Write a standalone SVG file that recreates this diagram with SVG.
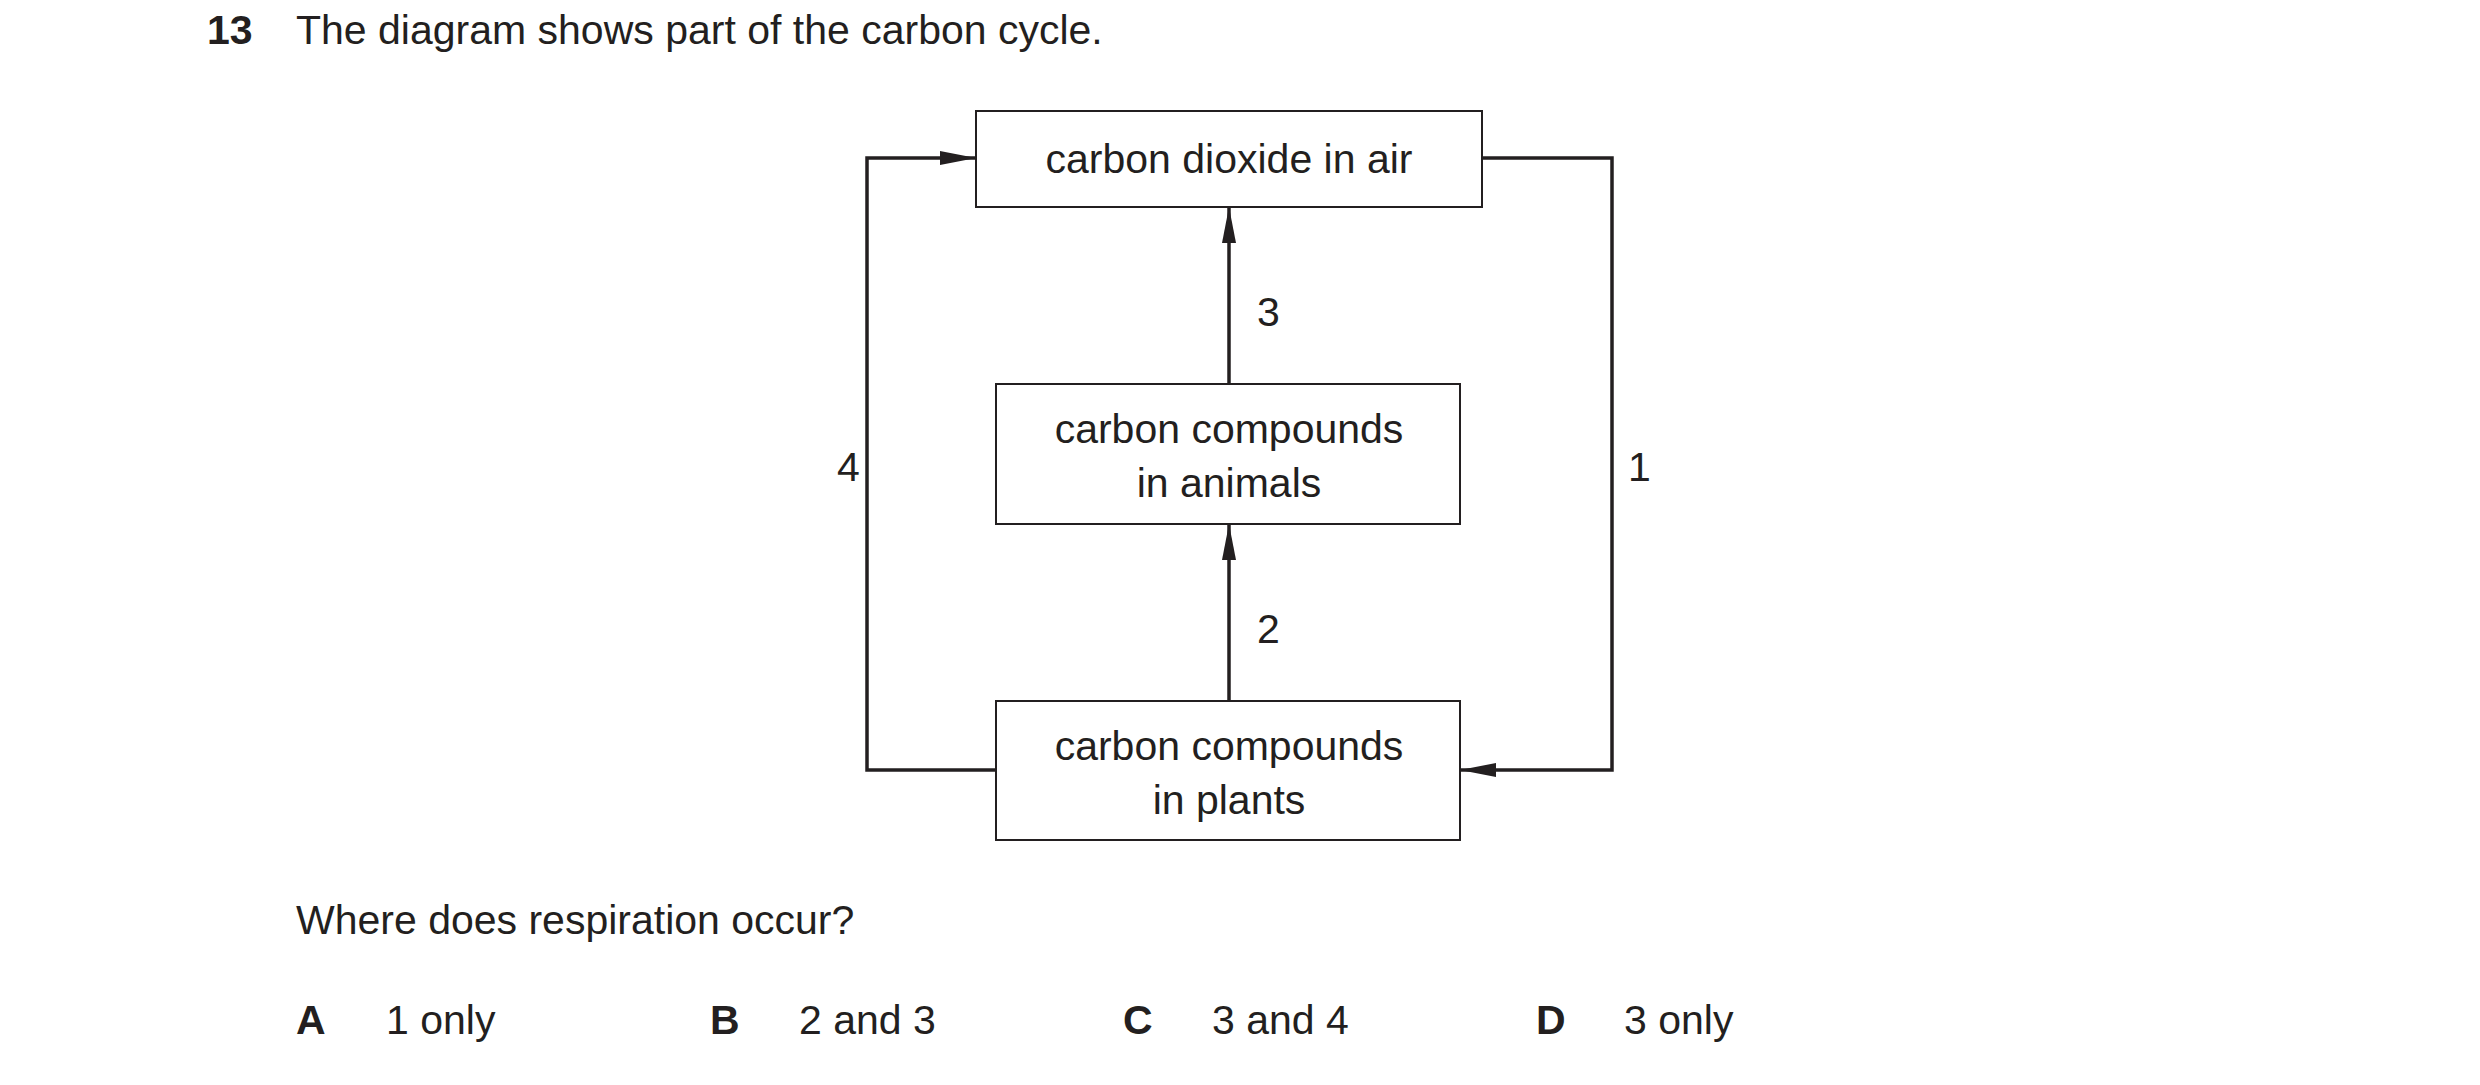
<svg xmlns="http://www.w3.org/2000/svg" width="2480" height="1085" viewBox="0 0 2480 1085">
<defs>
<style>
text{font-family:"Liberation Sans",Arial,sans-serif;font-size:41px;fill:#231f20}
.b{font-weight:bold}
.m{text-anchor:middle}
.box{fill:#fff;stroke:#231f20;stroke-width:2}
.ln{fill:none;stroke:#231f20;stroke-width:3.5}
</style>
<marker id="ah" viewBox="0 0 10 10" refX="10" refY="5" markerWidth="36" markerHeight="14" markerUnits="userSpaceOnUse" orient="auto" preserveAspectRatio="none"><path d="M0,0L10,5L0,10z" fill="#231f20"/></marker>
</defs>
<rect width="2480" height="1085" fill="#fff"/>
<text x="207" y="44" class="b">13</text>
<text x="296" y="44">The diagram shows part of the carbon cycle.</text>
<g id="connectors">
<path class="ln" d="M1229,384V207" marker-end="url(#ah)"/>
<path class="ln" d="M1229,701V524" marker-end="url(#ah)"/>
<path class="ln" d="M996,770H867V158H976" marker-end="url(#ah)"/>
<path class="ln" d="M1482,158H1612V770H1460" marker-end="url(#ah)"/>
<text x="1257" y="326">3</text>
<text x="1257" y="643">2</text>
<text x="837" y="481">4</text>
<text x="1628" y="481">1</text>
</g>
<g id="air"><rect class="box" x="976" y="111" width="506" height="96"/><text x="1229" y="173" class="m">carbon dioxide in air</text></g>
<g id="animals"><rect class="box" x="996" y="384" width="464" height="140"/><text x="1229" y="443" class="m">carbon compounds</text><text x="1229" y="497" class="m">in animals</text></g>
<g id="plants"><rect class="box" x="996" y="701" width="464" height="139"/><text x="1229" y="760" class="m">carbon compounds</text><text x="1229" y="814" class="m">in plants</text></g>
<text x="296" y="934">Where does respiration occur?</text>
<text x="296" y="1034" class="b">A</text><text x="386" y="1034">1 only</text>
<text x="710" y="1034" class="b">B</text><text x="799" y="1034">2 and 3</text>
<text x="1123" y="1034" class="b">C</text><text x="1212" y="1034">3 and 4</text>
<text x="1536" y="1034" class="b">D</text><text x="1624" y="1034">3 only</text>
</svg>
